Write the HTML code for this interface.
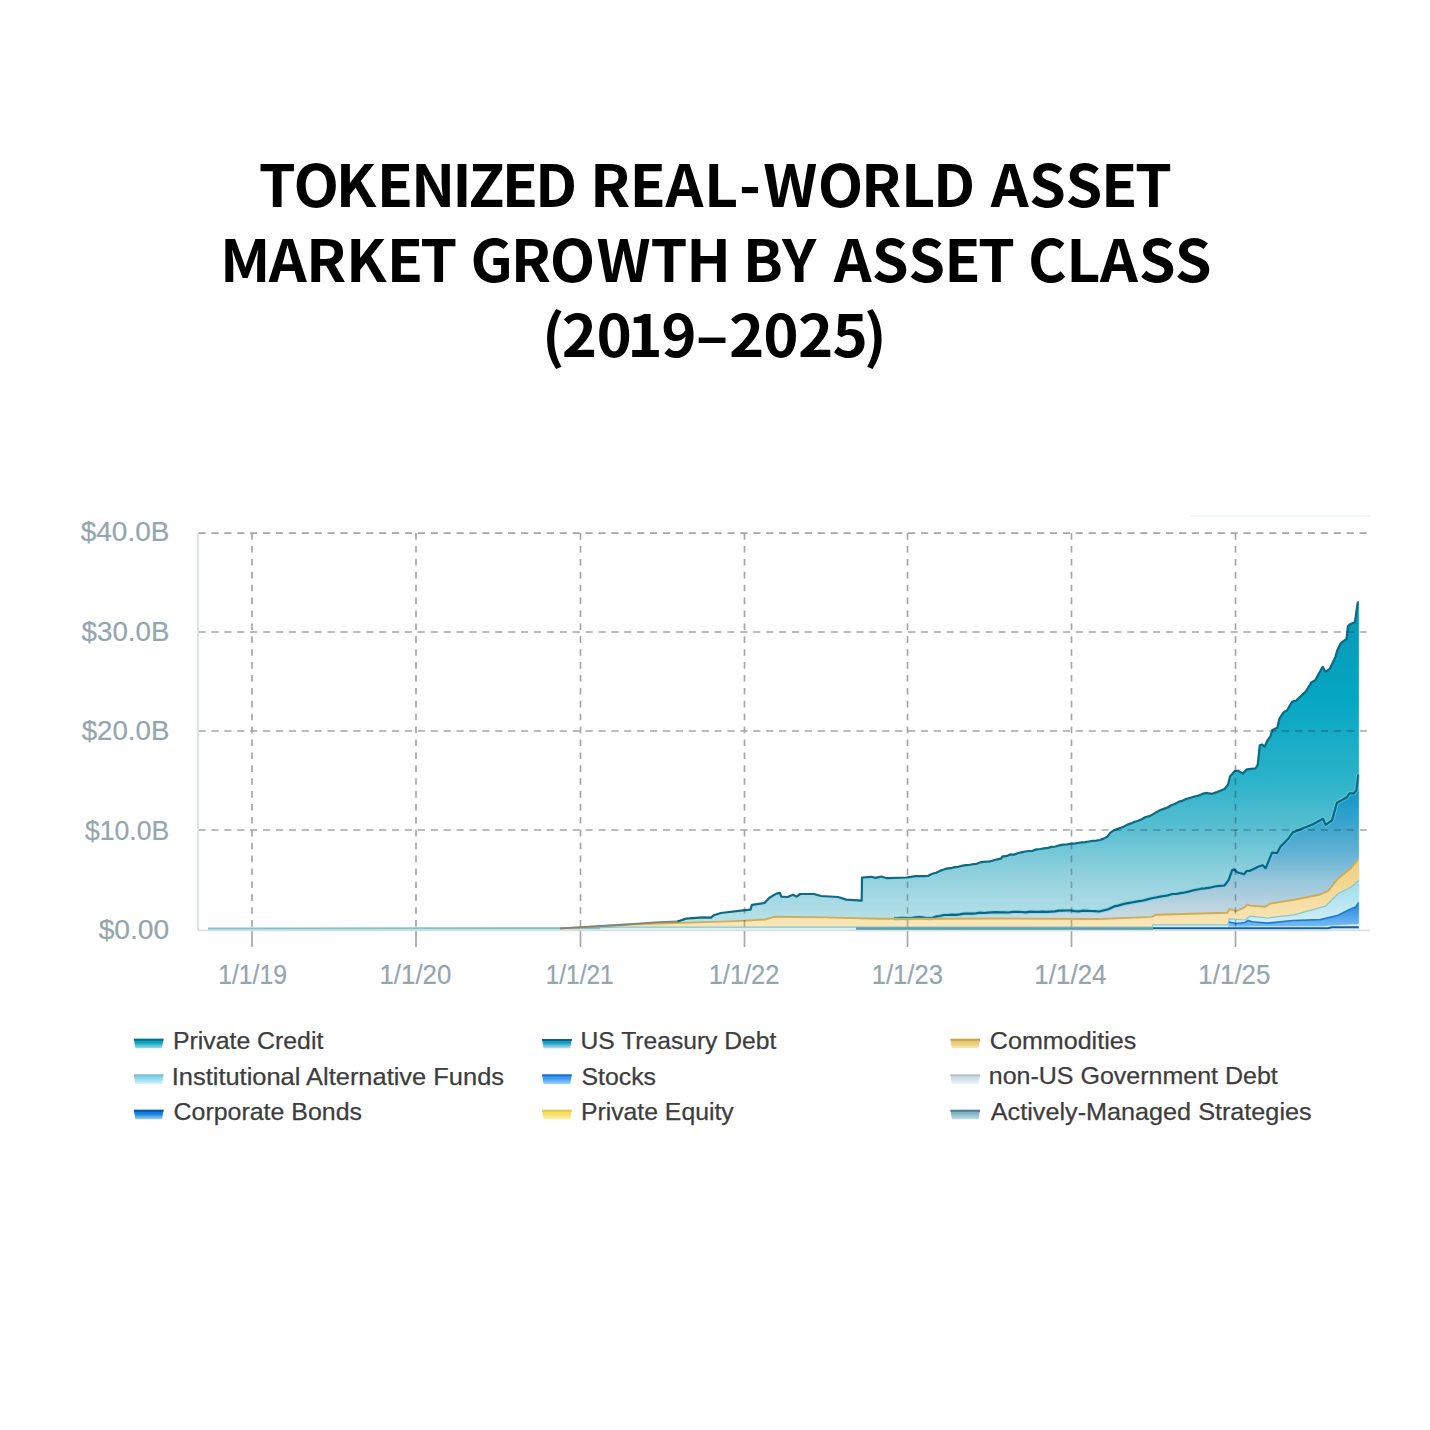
<!DOCTYPE html>
<html><head><meta charset="utf-8"><title>Tokenized Real-World Asset Market Growth by Asset Class (2019–2025)</title>
<style>
html,body{margin:0;padding:0;background:#fff;}
body{width:1430px;height:1430px;overflow:hidden;}
svg{display:block;}
text{font-family:"Liberation Sans",Arial,sans-serif;}
text.tt{font-family:"Noto Sans CJK JP","Liberation Sans",sans-serif;}
</style></head>
<body>
<svg width="1430" height="1430" viewBox="0 0 1430 1430">
<defs>
<linearGradient id="gPC" x1="0" y1="0" x2="0" y2="1">
 <stop offset="0" stop-color="#0897b4"/><stop offset="0.3" stop-color="#06a7c3"/><stop offset="0.55" stop-color="#2cb3c9"/><stop offset="0.7" stop-color="#5cbfd2"/><stop offset="0.82" stop-color="#8ccfdc"/><stop offset="0.92" stop-color="#a8dae4"/><stop offset="1" stop-color="#bfe3ea"/>
</linearGradient>
<linearGradient id="gUS" x1="0" y1="0" x2="0" y2="1">
 <stop offset="0" stop-color="#0b8ec6"/><stop offset="0.17" stop-color="#1b9aca"/><stop offset="0.49" stop-color="#5eb0d2"/><stop offset="0.69" stop-color="#98c7db"/><stop offset="0.85" stop-color="#bcd4e0"/><stop offset="1" stop-color="#d3e2e9"/>
</linearGradient>
<linearGradient id="gCM" x1="0" y1="0" x2="0" y2="1">
 <stop offset="0" stop-color="#eecf7e"/><stop offset="1" stop-color="#f9e8bb"/>
</linearGradient>
<linearGradient id="gIA" x1="0" y1="0" x2="0" y2="1">
 <stop offset="0" stop-color="#9fdcec"/><stop offset="1" stop-color="#d8f2f8"/>
</linearGradient>
<linearGradient id="gST" x1="0" y1="0" x2="0" y2="1">
 <stop offset="0" stop-color="#2287e0"/><stop offset="1" stop-color="#7fc0f2"/>
</linearGradient>
</defs>
<g stroke="#a6a6a6" stroke-opacity="1" stroke-width="1.7" ><line x1="198.5" y1="533.1" x2="1367" y2="533.1" stroke-dasharray="7.2 5.7"/><line x1="198.5" y1="632" x2="1367" y2="632" stroke-dasharray="7.2 5.7"/><line x1="198.5" y1="731" x2="1367" y2="731" stroke-dasharray="7.2 5.7"/><line x1="198.5" y1="830" x2="1367" y2="830" stroke-dasharray="7.2 5.7"/><line x1="252" y1="533.1" x2="252" y2="930.6" stroke-dasharray="6.6 6.3"/><line x1="416" y1="533.1" x2="416" y2="930.6" stroke-dasharray="6.6 6.3"/><line x1="580.5" y1="533.1" x2="580.5" y2="930.6" stroke-dasharray="6.6 6.3"/><line x1="744.5" y1="533.1" x2="744.5" y2="930.6" stroke-dasharray="6.6 6.3"/><line x1="907.5" y1="533.1" x2="907.5" y2="930.6" stroke-dasharray="6.6 6.3"/><line x1="1071.5" y1="533.1" x2="1071.5" y2="930.6" stroke-dasharray="6.6 6.3"/><line x1="1235.5" y1="533.1" x2="1235.5" y2="930.6" stroke-dasharray="6.6 6.3"/></g>
<path d="M208.0,929.0 L560.0,928.5 L620.0,925.0 L658.0,922.2 L677.5,921.5 L686.0,918.7 L700.0,917.5 L702.7,917.3 L711.0,917.6 L713.8,915.2 L719.4,913.4 L720.8,913.0 L740.0,910.7 L743.0,910.3 L750.5,909.7 L751.9,904.8 L764.5,903.0 L765.0,902.5 L769.4,897.8 L775.0,894.4 L776.4,893.6 L779.9,892.9 L781.3,896.6 L787.6,897.0 L793.0,894.7 L796.6,896.6 L800.1,894.0 L814.0,894.0 L821.0,896.0 L824.0,896.2 L838.0,897.0 L846.3,899.6 L861.7,900.6 L862.0,877.5 L871.5,876.8 L875.7,877.9 L880.0,876.8 L881.3,876.5 L886.9,878.2 L894.0,877.9 L898.3,877.8 L902.7,877.6 L906.4,877.5 L907.0,877.4 L910.9,876.9 L911.3,876.8 L915.5,876.2 L915.7,876.2 L920.0,876.2 L924.2,876.2 L925.6,876.0 L928.4,875.8 L931.2,874.3 L932.2,873.8 L935.6,872.8 L936.1,872.7 L939.9,870.9 L940.0,870.9 L943.8,869.5 L947.4,868.4 L947.8,868.4 L951.0,868.2 L951.8,867.9 L954.6,867.1 L955.9,867.0 L958.2,866.9 L959.9,866.4 L961.8,865.8 L963.9,865.4 L965.4,865.2 L968.0,865.1 L969.0,865.0 L972.0,864.3 L972.6,864.2 L976.0,864.0 L976.1,864.0 L979.7,862.5 L980.0,862.4 L983.2,861.9 L984.0,861.8 L986.8,861.6 L988.0,861.5 L990.3,861.3 L992.0,860.8 L993.9,860.2 L996.0,859.7 L997.4,859.3 L1000.0,858.9 L1001.0,858.7 L1002.5,856.4 L1004.0,856.3 L1006.3,856.2 L1008.4,855.2 L1010.1,854.4 L1012.7,854.5 L1013.8,854.6 L1017.1,853.4 L1017.6,853.2 L1021.4,852.3 L1021.5,852.3 L1025.2,851.5 L1025.8,851.5 L1029.0,851.0 L1030.2,851.0 L1032.7,850.8 L1034.5,850.1 L1036.5,849.4 L1038.9,849.1 L1040.3,849.0 L1042.9,848.6 L1044.1,848.4 L1046.9,848.0 L1047.9,847.9 L1050.9,847.1 L1051.7,846.9 L1054.9,846.6 L1055.5,846.5 L1058.9,845.4 L1059.3,845.3 L1062.9,844.7 L1063.1,844.7 L1066.9,844.5 L1070.6,843.7 L1070.9,843.7 L1074.2,843.7 L1074.9,843.6 L1077.9,843.0 L1078.9,842.8 L1081.6,842.3 L1083.0,842.3 L1085.2,842.2 L1087.0,841.9 L1088.9,841.5 L1091.0,841.1 L1092.5,840.9 L1095.0,840.7 L1096.2,840.6 L1099.0,840.2 L1100.0,840.0 L1103.7,838.6 L1104.2,838.4 L1107.4,836.6 L1108.4,835.3 L1110.2,832.9 L1114.0,830.2 L1118.2,828.7 L1120.0,828.0 L1122.4,827.1 L1123.7,826.7 L1126.6,825.1 L1127.4,824.6 L1130.8,823.5 L1131.0,823.4 L1134.7,821.8 L1134.9,821.8 L1138.4,820.7 L1139.1,820.3 L1142.1,819.0 L1143.3,818.3 L1145.7,817.0 L1147.5,816.6 L1149.4,816.2 L1151.7,814.9 L1153.1,814.1 L1156.0,812.4 L1159.8,810.3 L1160.1,810.2 L1163.7,808.9 L1164.2,808.7 L1167.5,807.5 L1168.2,807.1 L1171.3,805.2 L1172.3,804.8 L1175.2,803.8 L1176.4,803.1 L1179.0,801.6 L1180.5,801.2 L1182.9,800.6 L1184.5,799.8 L1186.7,798.7 L1188.6,798.3 L1190.6,797.8 L1192.7,797.1 L1194.5,796.5 L1196.8,796.0 L1198.5,795.6 L1200.8,794.6 L1202.4,793.9 L1204.9,793.2 L1206.3,792.9 L1209.8,793.5 L1211.9,793.8 L1214.7,792.9 L1216.1,792.4 L1219.6,791.0 L1220.3,790.7 L1224.5,789.0 L1227.3,785.6 L1228.0,784.8 L1228.7,781.9 L1229.4,778.9 L1230.0,776.4 L1232.2,773.9 L1232.9,773.2 L1234.3,771.6 L1235.0,770.8 L1235.7,770.8 L1237.0,770.8 L1238.5,770.8 L1242.7,773.6 L1244.0,772.3 L1246.9,769.4 L1247.6,769.3 L1250.0,769.0 L1255.6,768.3 L1257.6,765.0 L1257.7,764.8 L1259.8,745.2 L1261.9,744.5 L1262.6,745.0 L1264.7,746.6 L1265.1,745.7 L1265.7,744.3 L1267.5,740.3 L1270.2,737.0 L1270.3,736.9 L1272.0,731.2 L1272.4,729.9 L1277.1,727.9 L1277.3,727.8 L1279.4,718.7 L1280.2,717.5 L1283.6,712.4 L1287.1,710.3 L1287.8,709.1 L1292.0,701.9 L1292.8,701.6 L1294.1,701.2 L1296.2,700.5 L1305.9,691.4 L1311.5,682.3 L1313.0,681.6 L1315.0,680.6 L1319.3,672.9 L1322.7,666.9 L1323.0,667.4 L1325.5,671.8 L1325.6,671.7 L1328.1,670.1 L1329.7,669.0 L1331.9,664.3 L1335.3,657.1 L1336.9,651.8 L1337.4,650.1 L1338.2,648.5 L1340.9,643.1 L1346.5,639.0 L1347.0,634.5 L1347.9,626.4 L1349.5,624.8 L1350.0,624.3 L1350.8,624.0 L1353.9,622.6 L1354.9,622.2 L1356.3,612.4 L1356.4,611.7 L1357.7,602.6 L1358.3,602.3 L1359.0,601.9 L1359.0,774.5 L1358.3,775.1 L1357.7,779.9 L1356.4,790.2 L1356.3,790.3 L1354.9,792.1 L1353.9,793.4 L1350.8,793.4 L1350.0,793.4 L1349.5,793.4 L1347.9,795.8 L1347.0,797.2 L1346.5,797.5 L1340.9,800.6 L1338.2,802.1 L1337.4,802.5 L1336.9,802.8 L1335.3,808.5 L1331.9,820.5 L1329.7,822.0 L1328.1,823.2 L1325.6,824.9 L1325.5,824.7 L1323.0,818.6 L1322.7,818.8 L1319.3,820.7 L1315.0,823.1 L1313.0,824.2 L1311.5,824.8 L1305.9,827.1 L1296.2,831.0 L1294.1,831.9 L1292.8,832.4 L1292.0,833.5 L1287.8,839.3 L1287.1,840.0 L1283.6,843.5 L1280.2,846.9 L1279.4,848.5 L1277.3,852.8 L1277.1,853.2 L1272.4,852.6 L1272.0,852.6 L1270.3,856.8 L1270.2,857.1 L1267.5,863.8 L1265.7,868.3 L1265.1,867.7 L1264.7,867.3 L1262.6,865.2 L1261.9,865.5 L1259.8,866.2 L1257.7,867.0 L1257.6,867.0 L1255.6,868.0 L1250.0,870.8 L1247.6,870.8 L1246.9,870.8 L1244.0,874.3 L1242.7,873.9 L1238.5,872.6 L1237.0,872.2 L1235.7,870.9 L1235.0,870.1 L1234.3,869.4 L1232.9,869.9 L1232.2,870.1 L1230.0,876.3 L1229.4,877.9 L1228.7,879.9 L1228.0,880.8 L1227.3,881.8 L1224.5,885.5 L1220.3,885.8 L1219.6,885.8 L1216.1,886.3 L1214.7,886.5 L1211.9,887.2 L1209.8,887.7 L1206.3,888.1 L1204.9,888.3 L1202.4,888.6 L1200.8,888.7 L1198.5,889.3 L1196.8,889.7 L1194.5,890.1 L1192.7,890.5 L1190.6,891.1 L1188.6,891.6 L1186.7,892.0 L1184.5,892.5 L1182.9,892.7 L1180.5,893.1 L1179.0,893.4 L1176.4,894.0 L1175.2,894.0 L1172.3,894.0 L1171.3,894.3 L1168.2,895.3 L1167.5,895.5 L1164.2,896.0 L1163.7,896.1 L1160.1,896.7 L1159.8,896.8 L1156.0,897.5 L1153.1,898.0 L1151.7,898.3 L1149.4,898.9 L1147.5,899.4 L1145.7,899.9 L1143.3,900.5 L1142.1,900.7 L1139.1,901.1 L1138.4,901.2 L1134.9,901.8 L1134.7,901.8 L1131.0,902.7 L1130.8,902.7 L1127.4,903.2 L1126.6,903.3 L1123.7,904.0 L1122.4,904.4 L1120.0,905.1 L1118.2,905.6 L1114.0,906.4 L1110.2,908.3 L1108.4,909.2 L1107.4,909.4 L1104.2,910.2 L1103.7,910.4 L1100.0,911.3 L1099.0,911.5 L1096.2,911.2 L1095.0,911.1 L1092.5,911.1 L1091.0,911.0 L1088.9,910.9 L1087.0,910.8 L1085.2,910.8 L1083.0,910.7 L1081.6,910.9 L1078.9,911.3 L1077.9,911.2 L1074.9,911.1 L1074.2,911.0 L1070.9,910.5 L1070.6,910.5 L1066.9,910.5 L1063.1,910.6 L1062.9,910.6 L1059.3,910.7 L1058.9,910.7 L1055.5,911.3 L1054.9,911.4 L1051.7,911.6 L1050.9,911.6 L1047.9,911.8 L1046.9,911.8 L1044.1,911.8 L1042.9,911.7 L1040.3,911.8 L1038.9,911.9 L1036.5,911.9 L1034.5,911.9 L1032.7,911.8 L1030.2,911.6 L1029.0,911.8 L1025.8,912.4 L1025.2,912.3 L1021.5,912.0 L1021.4,912.0 L1017.6,911.9 L1017.1,911.9 L1013.8,911.9 L1012.7,911.9 L1010.1,912.2 L1008.4,912.5 L1006.3,912.4 L1004.0,912.3 L1002.5,912.4 L1001.0,912.4 L1000.0,912.4 L997.4,912.3 L996.0,912.2 L993.9,912.3 L992.0,912.4 L990.3,912.5 L988.0,912.6 L986.8,912.7 L984.0,913.0 L983.2,912.9 L980.0,912.7 L979.7,912.8 L976.1,913.3 L976.0,913.3 L972.6,913.6 L972.0,913.7 L969.0,913.6 L968.0,913.6 L965.4,913.7 L963.9,913.7 L961.8,914.1 L959.9,914.4 L958.2,914.6 L955.9,914.8 L954.6,914.8 L951.8,914.7 L951.0,914.8 L947.8,915.0 L947.4,915.0 L943.8,915.0 L940.0,916.0 L939.9,916.0 L936.1,916.6 L935.6,916.7 L932.2,917.8 L931.2,918.2 L928.4,918.0 L925.6,917.8 L924.2,917.7 L920.0,917.2 L915.7,917.4 L915.5,917.4 L911.3,918.0 L910.9,918.0 L907.0,918.1 L906.4,918.0 L902.7,917.9 L898.3,918.2 L894.0,918.3 L886.9,918.4 L881.3,918.5 L880.0,918.5 L875.7,918.4 L871.5,918.3 L862.0,918.0 L861.7,918.0 L846.3,917.7 L838.0,917.5 L824.0,917.1 L821.0,917.1 L814.0,917.0 L800.1,916.8 L796.6,916.7 L793.0,916.7 L787.6,916.6 L781.3,916.5 L779.9,916.5 L776.4,916.4 L775.0,916.4 L769.4,917.9 L765.0,919.1 L764.5,919.1 L751.9,919.8 L750.5,919.9 L743.0,920.2 L740.0,920.4 L720.8,920.8 L719.4,920.8 L713.8,920.9 L711.0,921.0 L702.7,921.1 L700.0,921.2 L686.0,921.8 L677.5,922.2 L658.0,923.1 L620.0,924.8 L560.0,928.6 L208.0,929.0 Z" fill="url(#gPC)"/>
<path d="M208.0,929.0 L560.0,928.6 L620.0,924.8 L658.0,923.1 L677.5,922.2 L686.0,921.8 L700.0,921.2 L702.7,921.1 L711.0,921.0 L713.8,920.9 L719.4,920.8 L720.8,920.8 L740.0,920.4 L743.0,920.2 L750.5,919.9 L751.9,919.8 L764.5,919.1 L765.0,919.1 L769.4,917.9 L775.0,916.4 L776.4,916.4 L779.9,916.5 L781.3,916.5 L787.6,916.6 L793.0,916.7 L796.6,916.7 L800.1,916.8 L814.0,917.0 L821.0,917.1 L824.0,917.1 L838.0,917.5 L846.3,917.7 L861.7,918.0 L862.0,918.0 L871.5,918.3 L875.7,918.4 L880.0,918.5 L881.3,918.5 L886.9,918.4 L894.0,918.3 L898.3,918.2 L902.7,917.9 L906.4,918.0 L907.0,918.1 L910.9,918.0 L911.3,918.0 L915.5,917.4 L915.7,917.4 L920.0,917.2 L924.2,917.7 L925.6,917.8 L928.4,918.0 L931.2,918.2 L932.2,917.8 L935.6,916.7 L936.1,916.6 L939.9,916.0 L940.0,916.0 L943.8,915.0 L947.4,915.0 L947.8,915.0 L951.0,914.8 L951.8,914.7 L954.6,914.8 L955.9,914.8 L958.2,914.6 L959.9,914.4 L961.8,914.1 L963.9,913.7 L965.4,913.7 L968.0,913.6 L969.0,913.6 L972.0,913.7 L972.6,913.6 L976.0,913.3 L976.1,913.3 L979.7,912.8 L980.0,912.7 L983.2,912.9 L984.0,913.0 L986.8,912.7 L988.0,912.6 L990.3,912.5 L992.0,912.4 L993.9,912.3 L996.0,912.2 L997.4,912.3 L1000.0,912.4 L1001.0,912.4 L1002.5,912.4 L1004.0,912.3 L1006.3,912.4 L1008.4,912.5 L1010.1,912.2 L1012.7,911.9 L1013.8,911.9 L1017.1,911.9 L1017.6,911.9 L1021.4,912.0 L1021.5,912.0 L1025.2,912.3 L1025.8,912.4 L1029.0,911.8 L1030.2,911.6 L1032.7,911.8 L1034.5,911.9 L1036.5,911.9 L1038.9,911.9 L1040.3,911.8 L1042.9,911.7 L1044.1,911.8 L1046.9,911.8 L1047.9,911.8 L1050.9,911.6 L1051.7,911.6 L1054.9,911.4 L1055.5,911.3 L1058.9,910.7 L1059.3,910.7 L1062.9,910.6 L1063.1,910.6 L1066.9,910.5 L1070.6,910.5 L1070.9,910.5 L1074.2,911.0 L1074.9,911.1 L1077.9,911.2 L1078.9,911.3 L1081.6,910.9 L1083.0,910.7 L1085.2,910.8 L1087.0,910.8 L1088.9,910.9 L1091.0,911.0 L1092.5,911.1 L1095.0,911.1 L1096.2,911.2 L1099.0,911.5 L1100.0,911.3 L1103.7,910.4 L1104.2,910.2 L1107.4,909.4 L1108.4,909.2 L1110.2,908.3 L1114.0,906.4 L1118.2,905.6 L1120.0,905.1 L1122.4,904.4 L1123.7,904.0 L1126.6,903.3 L1127.4,903.2 L1130.8,902.7 L1131.0,902.7 L1134.7,901.8 L1134.9,901.8 L1138.4,901.2 L1139.1,901.1 L1142.1,900.7 L1143.3,900.5 L1145.7,899.9 L1147.5,899.4 L1149.4,898.9 L1151.7,898.3 L1153.1,898.0 L1156.0,897.5 L1159.8,896.8 L1160.1,896.7 L1163.7,896.1 L1164.2,896.0 L1167.5,895.5 L1168.2,895.3 L1171.3,894.3 L1172.3,894.0 L1175.2,894.0 L1176.4,894.0 L1179.0,893.4 L1180.5,893.1 L1182.9,892.7 L1184.5,892.5 L1186.7,892.0 L1188.6,891.6 L1190.6,891.1 L1192.7,890.5 L1194.5,890.1 L1196.8,889.7 L1198.5,889.3 L1200.8,888.7 L1202.4,888.6 L1204.9,888.3 L1206.3,888.1 L1209.8,887.7 L1211.9,887.2 L1214.7,886.5 L1216.1,886.3 L1219.6,885.8 L1220.3,885.8 L1224.5,885.5 L1227.3,881.8 L1228.0,880.8 L1228.7,879.9 L1229.4,877.9 L1230.0,876.3 L1232.2,870.1 L1232.9,869.9 L1234.3,869.4 L1235.0,870.1 L1235.7,870.9 L1237.0,872.2 L1238.5,872.6 L1242.7,873.9 L1244.0,874.3 L1246.9,870.8 L1247.6,870.8 L1250.0,870.8 L1255.6,868.0 L1257.6,867.0 L1257.7,867.0 L1259.8,866.2 L1261.9,865.5 L1262.6,865.2 L1264.7,867.3 L1265.1,867.7 L1265.7,868.3 L1267.5,863.8 L1270.2,857.1 L1270.3,856.8 L1272.0,852.6 L1272.4,852.6 L1277.1,853.2 L1277.3,852.8 L1279.4,848.5 L1280.2,846.9 L1283.6,843.5 L1287.1,840.0 L1287.8,839.3 L1292.0,833.5 L1292.8,832.4 L1294.1,831.9 L1296.2,831.0 L1305.9,827.1 L1311.5,824.8 L1313.0,824.2 L1315.0,823.1 L1319.3,820.7 L1322.7,818.8 L1323.0,818.6 L1325.5,824.7 L1325.6,824.9 L1328.1,823.2 L1329.7,822.0 L1331.9,820.5 L1335.3,808.5 L1336.9,802.8 L1337.4,802.5 L1338.2,802.1 L1340.9,800.6 L1346.5,797.5 L1347.0,797.2 L1347.9,795.8 L1349.5,793.4 L1350.0,793.4 L1350.8,793.4 L1353.9,793.4 L1354.9,792.1 L1356.3,790.3 L1356.4,790.2 L1357.7,779.9 L1358.3,775.1 L1359.0,774.5 L1359.0,929.6 L1358.3,929.6 L1357.7,929.6 L1356.4,929.6 L1356.3,929.6 L1354.9,929.6 L1353.9,929.6 L1350.8,929.6 L1350.0,929.6 L1349.5,929.6 L1347.9,929.6 L1347.0,929.6 L1346.5,929.6 L1340.9,929.6 L1338.2,929.6 L1337.4,929.6 L1336.9,929.6 L1335.3,929.6 L1331.9,929.6 L1329.7,929.6 L1328.1,929.6 L1325.6,929.6 L1325.5,929.6 L1323.0,929.6 L1322.7,929.6 L1319.3,929.6 L1315.0,929.6 L1313.0,929.6 L1311.5,929.6 L1305.9,929.6 L1296.2,929.6 L1294.1,929.6 L1292.8,929.6 L1292.0,929.6 L1287.8,929.6 L1287.1,929.6 L1283.6,929.6 L1280.2,929.6 L1279.4,929.6 L1277.3,929.6 L1277.1,929.6 L1272.4,929.6 L1272.0,929.6 L1270.3,929.6 L1270.2,929.6 L1267.5,929.6 L1265.7,929.6 L1265.1,929.6 L1264.7,929.6 L1262.6,929.6 L1261.9,929.6 L1259.8,929.6 L1257.7,929.6 L1257.6,929.6 L1255.6,929.6 L1250.0,929.6 L1247.6,929.6 L1246.9,929.6 L1244.0,929.6 L1242.7,929.6 L1238.5,929.6 L1237.0,929.6 L1235.7,929.6 L1235.0,929.6 L1234.3,929.6 L1232.9,929.6 L1232.2,929.6 L1230.0,929.6 L1229.4,929.6 L1228.7,929.6 L1228.0,929.6 L1227.3,929.6 L1224.5,929.6 L1220.3,929.6 L1219.6,929.6 L1216.1,929.6 L1214.7,929.6 L1211.9,929.6 L1209.8,929.6 L1206.3,929.6 L1204.9,929.6 L1202.4,929.6 L1200.8,929.6 L1198.5,929.6 L1196.8,929.6 L1194.5,929.6 L1192.7,929.6 L1190.6,929.6 L1188.6,929.6 L1186.7,929.6 L1184.5,929.6 L1182.9,929.6 L1180.5,929.6 L1179.0,929.6 L1176.4,929.6 L1175.2,929.6 L1172.3,929.6 L1171.3,929.6 L1168.2,929.6 L1167.5,929.6 L1164.2,929.6 L1163.7,929.6 L1160.1,929.6 L1159.8,929.6 L1156.0,929.6 L1153.1,929.6 L1151.7,929.6 L1149.4,929.6 L1147.5,929.6 L1145.7,929.6 L1143.3,929.6 L1142.1,929.6 L1139.1,929.6 L1138.4,929.6 L1134.9,929.6 L1134.7,929.6 L1131.0,929.6 L1130.8,929.6 L1127.4,929.6 L1126.6,929.6 L1123.7,929.6 L1122.4,929.6 L1120.0,929.6 L1118.2,929.6 L1114.0,929.6 L1110.2,929.6 L1108.4,929.6 L1107.4,929.6 L1104.2,929.6 L1103.7,929.6 L1100.0,929.6 L1099.0,929.6 L1096.2,929.6 L1095.0,929.6 L1092.5,929.6 L1091.0,929.6 L1088.9,929.6 L1087.0,929.6 L1085.2,929.6 L1083.0,929.6 L1081.6,929.6 L1078.9,929.6 L1077.9,929.6 L1074.9,929.6 L1074.2,929.6 L1070.9,929.6 L1070.6,929.6 L1066.9,929.6 L1063.1,929.6 L1062.9,929.6 L1059.3,929.6 L1058.9,929.6 L1055.5,929.6 L1054.9,929.6 L1051.7,929.6 L1050.9,929.6 L1047.9,929.6 L1046.9,929.6 L1044.1,929.6 L1042.9,929.6 L1040.3,929.6 L1038.9,929.6 L1036.5,929.6 L1034.5,929.6 L1032.7,929.6 L1030.2,929.6 L1029.0,929.6 L1025.8,929.6 L1025.2,929.6 L1021.5,929.6 L1021.4,929.6 L1017.6,929.6 L1017.1,929.6 L1013.8,929.6 L1012.7,929.6 L1010.1,929.6 L1008.4,929.6 L1006.3,929.6 L1004.0,929.6 L1002.5,929.6 L1001.0,929.6 L1000.0,929.6 L997.4,929.6 L996.0,929.6 L993.9,929.6 L992.0,929.6 L990.3,929.6 L988.0,929.6 L986.8,929.6 L984.0,929.6 L983.2,929.6 L980.0,929.6 L979.7,929.6 L976.1,929.6 L976.0,929.6 L972.6,929.6 L972.0,929.6 L969.0,929.6 L968.0,929.6 L965.4,929.6 L963.9,929.6 L961.8,929.6 L959.9,929.6 L958.2,929.6 L955.9,929.6 L954.6,929.6 L951.8,929.6 L951.0,929.6 L947.8,929.6 L947.4,929.6 L943.8,929.6 L940.0,929.6 L939.9,929.6 L936.1,929.6 L935.6,929.6 L932.2,929.6 L931.2,929.6 L928.4,929.6 L925.6,929.6 L924.2,929.6 L920.0,929.6 L915.7,929.6 L915.5,929.6 L911.3,929.6 L910.9,929.6 L907.0,929.6 L906.4,929.6 L902.7,929.6 L898.3,929.6 L894.0,929.6 L886.9,929.6 L881.3,929.6 L880.0,929.6 L875.7,929.6 L871.5,929.6 L862.0,929.6 L861.7,929.6 L846.3,929.6 L838.0,929.6 L824.0,929.6 L821.0,929.6 L814.0,929.6 L800.1,929.6 L796.6,929.6 L793.0,929.6 L787.6,929.6 L781.3,929.6 L779.9,929.6 L776.4,929.6 L775.0,929.6 L769.4,929.6 L765.0,929.6 L764.5,929.6 L751.9,929.6 L750.5,929.6 L743.0,929.6 L740.0,929.6 L720.8,929.6 L719.4,929.6 L713.8,929.6 L711.0,929.6 L702.7,929.6 L700.0,929.6 L686.0,929.6 L677.5,929.6 L658.0,929.6 L620.0,929.6 L560.0,929.6 L208.0,929.6 Z" fill="url(#gUS)"/>
<path d="M208.0,929.0 L560.0,928.6 L620.0,924.8 L719.4,921.6 L740.0,920.9 L765.0,919.5 L775.0,916.7 L824.0,917.4 L880.0,918.8 L940.0,918.8 L1000.0,918.5 L1100.0,919.0 L1151.7,916.9 L1156.0,914.8 L1227.3,912.7 L1229.4,909.0 L1232.9,910.0 L1235.7,911.3 L1244.0,907.8 L1247.6,904.6 L1250.0,905.6 L1265.1,906.7 L1270.2,903.6 L1294.1,899.8 L1319.3,894.8 L1328.1,891.0 L1338.2,878.4 L1350.8,868.3 L1358.3,859.5 L1359.0,859.5 L1359.0,929.6 L1358.3,929.6 L1350.8,929.6 L1338.2,929.6 L1328.1,929.6 L1319.3,929.6 L1294.1,929.6 L1270.2,929.6 L1265.1,929.6 L1250.0,929.6 L1247.6,929.6 L1244.0,929.6 L1235.7,929.6 L1232.9,929.6 L1229.4,929.6 L1227.3,929.6 L1156.0,929.6 L1151.7,929.6 L1100.0,929.6 L1000.0,929.6 L940.0,929.6 L880.0,929.6 L824.0,929.6 L775.0,929.6 L765.0,929.6 L740.0,929.6 L719.4,929.6 L620.0,929.6 L560.0,929.6 L208.0,929.6 Z" fill="url(#gCM)"/>
<path d="M208.0,928.6 L560.0,928.4 L620.0,927.2 L719.4,927.2 L740.0,927.2 L765.0,927.1 L775.0,927.1 L824.0,927.1 L880.0,927.1 L940.0,927.1 L1000.0,927.1 L1100.0,927.0 L1151.7,927.0 L1152.0,927.0 L1153.0,924.8 L1156.0,924.8 L1227.3,924.8 L1228.0,924.8 L1229.0,919.0 L1229.4,919.0 L1232.9,919.2 L1235.7,919.4 L1244.0,919.9 L1245.0,920.0 L1247.6,918.0 L1250.0,916.2 L1265.1,917.7 L1267.6,918.0 L1270.2,917.7 L1294.1,914.9 L1319.3,907.9 L1325.6,906.1 L1328.1,903.6 L1338.2,893.5 L1350.8,887.2 L1358.3,880.9 L1359.0,880.9 L1359.0,929.6 L1358.3,929.6 L1350.8,929.6 L1338.2,929.6 L1328.1,929.6 L1325.6,929.6 L1319.3,929.6 L1294.1,929.6 L1270.2,929.6 L1267.6,929.6 L1265.1,929.6 L1250.0,929.6 L1247.6,929.6 L1245.0,929.6 L1244.0,929.6 L1235.7,929.6 L1232.9,929.6 L1229.4,929.6 L1229.0,929.6 L1228.0,929.6 L1227.3,929.6 L1156.0,929.6 L1153.0,929.6 L1152.0,929.6 L1151.7,929.6 L1100.0,929.6 L1000.0,929.6 L940.0,929.6 L880.0,929.6 L824.0,929.6 L775.0,929.6 L765.0,929.6 L740.0,929.6 L719.4,929.6 L620.0,929.6 L560.0,929.6 L208.0,929.6 Z" fill="url(#gIA)"/>
<path d="M208.0,928.6 L560.0,928.4 L620.0,927.2 L1152.0,927.0 L1153.0,924.8 L1228.0,924.8 L1229.0,919.0 L1245.0,920.0 L1250.0,916.2 L1267.6,918.0 L1294.1,914.9 L1325.6,906.1 L1338.2,893.5 L1350.8,887.2 L1358.3,880.9 L1359.0,880.9" fill="none" stroke="#88c4d4" stroke-width="1.2"/>
<path d="M1228.0,929.0 L1229.0,926.4 L1320.0,926.2 L1340.0,925.0 L1359.0,924.0 L1359.0,929.6 L1340.0,929.6 L1320.0,929.6 L1229.0,929.6 L1228.0,929.6 Z" fill="#dfe8ec"/>
<path d="M1228.0,929.0 L1229.0,922.0 L1236.0,923.5 L1245.0,922.5 L1248.0,920.5 L1252.0,921.8 L1267.6,923.1 L1292.8,920.5 L1320.0,919.6 L1320.5,919.6 L1338.2,915.2 L1340.0,914.3 L1349.5,909.5 L1355.8,907.0 L1358.3,903.0 L1359.0,903.0 L1359.0,924.0 L1358.3,924.0 L1355.8,924.2 L1349.5,924.5 L1340.0,925.0 L1338.2,925.1 L1320.5,926.2 L1320.0,926.2 L1292.8,926.3 L1267.6,926.3 L1252.0,926.3 L1248.0,926.4 L1245.0,926.4 L1236.0,926.4 L1229.0,926.4 L1228.0,929.0 Z" fill="url(#gST)"/>
<path d="M1229.0,922.0 L1236.0,923.5 L1245.0,922.5 L1248.0,920.5 L1252.0,921.8 L1267.6,923.1 L1292.8,920.5 L1320.5,919.6 L1338.2,915.2 L1349.5,909.5 L1355.8,907.0 L1358.3,903.0 L1359.0,903.0" fill="none" stroke="#1b7ad8" stroke-width="1.6"/>
<path d="M856,927.3 L1153,927.3 L1153,930.1 L856,930.1 Z" fill="#5c9db5"/>
<path d="M1153,928.2 L1328,928.2 L1332,927.3 L1359,927.3" fill="none" stroke="#12609c" stroke-width="2"/>
<path d="M208,928.6 L600,928.2" fill="none" stroke="#7fc3d3" stroke-width="2"/>
<path d="M894.0,918.3 L898.3,918.2 L902.7,917.9 L907.0,918.1 L911.3,918.0 L915.7,917.4 L920.0,917.2 L925.6,917.8 L931.2,918.2 L935.6,916.7 L940.0,916.0 L943.8,915.0 L947.8,915.0 L951.8,914.7 L955.9,914.8 L959.9,914.4 L963.9,913.7 L968.0,913.6 L972.0,913.7 L976.0,913.3 L980.0,912.7 L984.0,913.0 L988.0,912.6 L992.0,912.4 L996.0,912.2 L1000.0,912.4 L1004.0,912.3 L1008.4,912.5 L1012.7,911.9 L1017.1,911.9 L1021.5,912.0 L1025.8,912.4 L1030.2,911.6 L1034.5,911.9 L1038.9,911.9 L1042.9,911.7 L1046.9,911.8 L1050.9,911.6 L1054.9,911.4 L1058.9,910.7 L1062.9,910.6 L1066.9,910.5 L1070.9,910.5 L1074.9,911.1 L1078.9,911.3 L1083.0,910.7 L1087.0,910.8 L1091.0,911.0 L1095.0,911.1 L1099.0,911.5 L1100.0,911.3 L1104.2,910.2 L1108.4,909.2 L1114.0,906.4 L1118.2,905.6 L1122.4,904.4 L1126.6,903.3 L1130.8,902.7 L1134.9,901.8 L1139.1,901.1 L1143.3,900.5 L1147.5,899.4 L1151.7,898.3 L1153.1,898.0 L1156.0,897.5 L1160.1,896.7 L1164.2,896.0 L1168.2,895.3 L1172.3,894.0 L1176.4,894.0 L1180.5,893.1 L1184.5,892.5 L1188.6,891.6 L1192.7,890.5 L1196.8,889.7 L1200.8,888.7 L1204.9,888.3 L1209.8,887.7 L1214.7,886.5 L1219.6,885.8 L1224.5,885.5 L1227.3,881.8 L1228.7,879.9 L1229.4,877.9 L1232.2,870.1 L1232.9,869.9 L1234.3,869.4 L1235.7,870.9 L1237.0,872.2 L1244.0,874.3 L1246.9,870.8 L1247.6,870.8 L1250.0,870.8 L1257.6,867.0 L1262.6,865.2 L1265.1,867.7 L1265.7,868.3 L1270.2,857.1 L1272.0,852.6 L1277.1,853.2 L1280.2,846.9 L1287.8,839.3 L1292.8,832.4 L1294.1,831.9 L1313.0,824.2 L1319.3,820.7 L1323.0,818.6 L1325.6,824.9 L1328.1,823.2 L1331.9,820.5 L1336.9,802.8 L1338.2,802.1 L1347.0,797.2 L1349.5,793.4 L1350.8,793.4 L1353.9,793.4 L1356.4,790.2 L1358.3,775.1 L1359.0,774.5" fill="none" stroke="#6cd2e6" stroke-opacity="0.55" stroke-width="4.4" stroke-linejoin="round"/>
<path d="M894.0,918.3 L898.3,918.2 L902.7,917.9 L907.0,918.1 L911.3,918.0 L915.7,917.4 L920.0,917.2 L925.6,917.8 L931.2,918.2 L935.6,916.7 L940.0,916.0 L943.8,915.0 L947.8,915.0 L951.8,914.7 L955.9,914.8 L959.9,914.4 L963.9,913.7 L968.0,913.6 L972.0,913.7 L976.0,913.3 L980.0,912.7 L984.0,913.0 L988.0,912.6 L992.0,912.4 L996.0,912.2 L1000.0,912.4 L1004.0,912.3 L1008.4,912.5 L1012.7,911.9 L1017.1,911.9 L1021.5,912.0 L1025.8,912.4 L1030.2,911.6 L1034.5,911.9 L1038.9,911.9 L1042.9,911.7 L1046.9,911.8 L1050.9,911.6 L1054.9,911.4 L1058.9,910.7 L1062.9,910.6 L1066.9,910.5 L1070.9,910.5 L1074.9,911.1 L1078.9,911.3 L1083.0,910.7 L1087.0,910.8 L1091.0,911.0 L1095.0,911.1 L1099.0,911.5 L1100.0,911.3 L1104.2,910.2 L1108.4,909.2 L1114.0,906.4 L1118.2,905.6 L1122.4,904.4 L1126.6,903.3 L1130.8,902.7 L1134.9,901.8 L1139.1,901.1 L1143.3,900.5 L1147.5,899.4 L1151.7,898.3 L1153.1,898.0 L1156.0,897.5 L1160.1,896.7 L1164.2,896.0 L1168.2,895.3 L1172.3,894.0 L1176.4,894.0 L1180.5,893.1 L1184.5,892.5 L1188.6,891.6 L1192.7,890.5 L1196.8,889.7 L1200.8,888.7 L1204.9,888.3 L1209.8,887.7 L1214.7,886.5 L1219.6,885.8 L1224.5,885.5 L1227.3,881.8 L1228.7,879.9 L1229.4,877.9 L1232.2,870.1 L1232.9,869.9 L1234.3,869.4 L1235.7,870.9 L1237.0,872.2 L1244.0,874.3 L1246.9,870.8 L1247.6,870.8 L1250.0,870.8 L1257.6,867.0 L1262.6,865.2 L1265.1,867.7 L1265.7,868.3 L1270.2,857.1 L1272.0,852.6 L1277.1,853.2 L1280.2,846.9 L1287.8,839.3 L1292.8,832.4 L1294.1,831.9 L1313.0,824.2 L1319.3,820.7 L1323.0,818.6 L1325.6,824.9 L1328.1,823.2 L1331.9,820.5 L1336.9,802.8 L1338.2,802.1 L1347.0,797.2 L1349.5,793.4 L1350.8,793.4 L1353.9,793.4 L1356.4,790.2 L1358.3,775.1 L1359.0,774.5" fill="none" stroke="#0b6684" stroke-width="2.2" stroke-linejoin="round"/>
<path d="M560.0,928.6 L620.0,924.8 L719.4,921.6 L740.0,920.9 L765.0,919.5 L775.0,916.7 L824.0,917.4 L880.0,918.8 L940.0,918.8 L1000.0,918.5 L1100.0,919.0 L1151.7,916.9 L1156.0,914.8 L1227.3,912.7 L1229.4,909.0 L1232.9,910.0 L1235.7,911.3 L1244.0,907.8 L1247.6,904.6 L1250.0,905.6 L1265.1,906.7 L1270.2,903.6 L1294.1,899.8 L1319.3,894.8 L1328.1,891.0 L1338.2,878.4 L1350.8,868.3 L1358.3,859.5 L1359.0,859.5" fill="none" stroke="#cfac58" stroke-width="1.9"/>
<path d="M560.0,928.4 L620.0,925.0 L658.0,922.2 L677.5,921.5 L686.0,918.7" fill="none" stroke="#7d8578" stroke-width="1.8" stroke-linejoin="round"/>
<path d="M677.5,921.5 L686.0,918.7 L702.7,917.3 L711.0,917.6 L713.8,915.2 L720.8,913.0 L743.0,910.3 L750.5,909.7 L751.9,904.8 L764.5,903.0 L769.4,897.8 L776.4,893.6 L779.9,892.9 L781.3,896.6 L787.6,897.0 L793.0,894.7 L796.6,896.6 L800.1,894.0 L814.0,894.0 L821.0,896.0 L838.0,897.0 L846.3,899.6 L861.7,900.6 L862.0,877.5 L871.5,876.8 L875.7,877.9 L881.3,876.5 L886.9,878.2 L906.4,877.5 L910.9,876.9 L915.5,876.2 L920.0,876.2 L924.2,876.2 L928.4,875.8 L932.2,873.8 L936.1,872.7 L939.9,870.9 L943.8,869.5 L947.4,868.4 L951.0,868.2 L954.6,867.1 L958.2,866.9 L961.8,865.8 L965.4,865.2 L969.0,865.0 L972.6,864.2 L976.1,864.0 L979.7,862.5 L983.2,861.9 L986.8,861.6 L990.3,861.3 L993.9,860.2 L997.4,859.3 L1001.0,858.7 L1002.5,856.4 L1006.3,856.2 L1010.1,854.4 L1013.8,854.6 L1017.6,853.2 L1021.4,852.3 L1025.2,851.5 L1029.0,851.0 L1032.7,850.8 L1036.5,849.4 L1040.3,849.0 L1044.1,848.4 L1047.9,847.9 L1051.7,846.9 L1055.5,846.5 L1059.3,845.3 L1063.1,844.7 L1066.9,844.5 L1070.6,843.7 L1074.2,843.7 L1077.9,843.0 L1081.6,842.3 L1085.2,842.2 L1088.9,841.5 L1092.5,840.9 L1096.2,840.6 L1100.0,840.0 L1103.7,838.6 L1107.4,836.6 L1110.2,832.9 L1114.0,830.2 L1120.0,828.0 L1123.7,826.7 L1127.4,824.6 L1131.0,823.4 L1134.7,821.8 L1138.4,820.7 L1142.1,819.0 L1145.7,817.0 L1149.4,816.2 L1153.1,814.1 L1156.0,812.4 L1159.8,810.3 L1163.7,808.9 L1167.5,807.5 L1171.3,805.2 L1175.2,803.8 L1179.0,801.6 L1182.9,800.6 L1186.7,798.7 L1190.6,797.8 L1194.5,796.5 L1198.5,795.6 L1202.4,793.9 L1206.3,792.9 L1211.9,793.8 L1216.1,792.4 L1220.3,790.7 L1224.5,789.0 L1228.0,784.8 L1230.0,776.4 L1235.0,770.8 L1238.5,770.8 L1242.7,773.6 L1246.9,769.4 L1255.6,768.3 L1257.7,764.8 L1259.8,745.2 L1261.9,744.5 L1264.7,746.6 L1267.5,740.3 L1270.3,736.9 L1272.4,729.9 L1277.3,727.8 L1279.4,718.7 L1283.6,712.4 L1287.1,710.3 L1292.0,701.9 L1296.2,700.5 L1305.9,691.4 L1311.5,682.3 L1315.0,680.6 L1322.7,666.9 L1325.5,671.8 L1329.7,669.0 L1335.3,657.1 L1337.4,650.1 L1340.9,643.1 L1346.5,639.0 L1347.9,626.4 L1350.0,624.3 L1354.9,622.2 L1356.3,612.4 L1357.7,602.6 L1359.0,601.9" fill="none" stroke="#0b6b86" stroke-width="2.2" stroke-linejoin="round"/>
<line x1="1359.3" y1="602" x2="1359.3" y2="929.6" stroke="#d8f3f8" stroke-width="0.8"/>
<line x1="1190" y1="516" x2="1371" y2="516" stroke="#eef4f6" stroke-width="1.5"/>
<clipPath id="areaclip"><path d="M208.0,929.0 L560.0,928.5 L620.0,925.0 L658.0,922.2 L677.5,921.5 L686.0,918.7 L700.0,917.5 L702.7,917.3 L711.0,917.6 L713.8,915.2 L719.4,913.4 L720.8,913.0 L740.0,910.7 L743.0,910.3 L750.5,909.7 L751.9,904.8 L764.5,903.0 L765.0,902.5 L769.4,897.8 L775.0,894.4 L776.4,893.6 L779.9,892.9 L781.3,896.6 L787.6,897.0 L793.0,894.7 L796.6,896.6 L800.1,894.0 L814.0,894.0 L821.0,896.0 L824.0,896.2 L838.0,897.0 L846.3,899.6 L861.7,900.6 L862.0,877.5 L871.5,876.8 L875.7,877.9 L880.0,876.8 L881.3,876.5 L886.9,878.2 L894.0,877.9 L898.3,877.8 L902.7,877.6 L906.4,877.5 L907.0,877.4 L910.9,876.9 L911.3,876.8 L915.5,876.2 L915.7,876.2 L920.0,876.2 L924.2,876.2 L925.6,876.0 L928.4,875.8 L931.2,874.3 L932.2,873.8 L935.6,872.8 L936.1,872.7 L939.9,870.9 L940.0,870.9 L943.8,869.5 L947.4,868.4 L947.8,868.4 L951.0,868.2 L951.8,867.9 L954.6,867.1 L955.9,867.0 L958.2,866.9 L959.9,866.4 L961.8,865.8 L963.9,865.4 L965.4,865.2 L968.0,865.1 L969.0,865.0 L972.0,864.3 L972.6,864.2 L976.0,864.0 L976.1,864.0 L979.7,862.5 L980.0,862.4 L983.2,861.9 L984.0,861.8 L986.8,861.6 L988.0,861.5 L990.3,861.3 L992.0,860.8 L993.9,860.2 L996.0,859.7 L997.4,859.3 L1000.0,858.9 L1001.0,858.7 L1002.5,856.4 L1004.0,856.3 L1006.3,856.2 L1008.4,855.2 L1010.1,854.4 L1012.7,854.5 L1013.8,854.6 L1017.1,853.4 L1017.6,853.2 L1021.4,852.3 L1021.5,852.3 L1025.2,851.5 L1025.8,851.5 L1029.0,851.0 L1030.2,851.0 L1032.7,850.8 L1034.5,850.1 L1036.5,849.4 L1038.9,849.1 L1040.3,849.0 L1042.9,848.6 L1044.1,848.4 L1046.9,848.0 L1047.9,847.9 L1050.9,847.1 L1051.7,846.9 L1054.9,846.6 L1055.5,846.5 L1058.9,845.4 L1059.3,845.3 L1062.9,844.7 L1063.1,844.7 L1066.9,844.5 L1070.6,843.7 L1070.9,843.7 L1074.2,843.7 L1074.9,843.6 L1077.9,843.0 L1078.9,842.8 L1081.6,842.3 L1083.0,842.3 L1085.2,842.2 L1087.0,841.9 L1088.9,841.5 L1091.0,841.1 L1092.5,840.9 L1095.0,840.7 L1096.2,840.6 L1099.0,840.2 L1100.0,840.0 L1103.7,838.6 L1104.2,838.4 L1107.4,836.6 L1108.4,835.3 L1110.2,832.9 L1114.0,830.2 L1118.2,828.7 L1120.0,828.0 L1122.4,827.1 L1123.7,826.7 L1126.6,825.1 L1127.4,824.6 L1130.8,823.5 L1131.0,823.4 L1134.7,821.8 L1134.9,821.8 L1138.4,820.7 L1139.1,820.3 L1142.1,819.0 L1143.3,818.3 L1145.7,817.0 L1147.5,816.6 L1149.4,816.2 L1151.7,814.9 L1153.1,814.1 L1156.0,812.4 L1159.8,810.3 L1160.1,810.2 L1163.7,808.9 L1164.2,808.7 L1167.5,807.5 L1168.2,807.1 L1171.3,805.2 L1172.3,804.8 L1175.2,803.8 L1176.4,803.1 L1179.0,801.6 L1180.5,801.2 L1182.9,800.6 L1184.5,799.8 L1186.7,798.7 L1188.6,798.3 L1190.6,797.8 L1192.7,797.1 L1194.5,796.5 L1196.8,796.0 L1198.5,795.6 L1200.8,794.6 L1202.4,793.9 L1204.9,793.2 L1206.3,792.9 L1209.8,793.5 L1211.9,793.8 L1214.7,792.9 L1216.1,792.4 L1219.6,791.0 L1220.3,790.7 L1224.5,789.0 L1227.3,785.6 L1228.0,784.8 L1228.7,781.9 L1229.4,778.9 L1230.0,776.4 L1232.2,773.9 L1232.9,773.2 L1234.3,771.6 L1235.0,770.8 L1235.7,770.8 L1237.0,770.8 L1238.5,770.8 L1242.7,773.6 L1244.0,772.3 L1246.9,769.4 L1247.6,769.3 L1250.0,769.0 L1255.6,768.3 L1257.6,765.0 L1257.7,764.8 L1259.8,745.2 L1261.9,744.5 L1262.6,745.0 L1264.7,746.6 L1265.1,745.7 L1265.7,744.3 L1267.5,740.3 L1270.2,737.0 L1270.3,736.9 L1272.0,731.2 L1272.4,729.9 L1277.1,727.9 L1277.3,727.8 L1279.4,718.7 L1280.2,717.5 L1283.6,712.4 L1287.1,710.3 L1287.8,709.1 L1292.0,701.9 L1292.8,701.6 L1294.1,701.2 L1296.2,700.5 L1305.9,691.4 L1311.5,682.3 L1313.0,681.6 L1315.0,680.6 L1319.3,672.9 L1322.7,666.9 L1323.0,667.4 L1325.5,671.8 L1325.6,671.7 L1328.1,670.1 L1329.7,669.0 L1331.9,664.3 L1335.3,657.1 L1336.9,651.8 L1337.4,650.1 L1338.2,648.5 L1340.9,643.1 L1346.5,639.0 L1347.0,634.5 L1347.9,626.4 L1349.5,624.8 L1350.0,624.3 L1350.8,624.0 L1353.9,622.6 L1354.9,622.2 L1356.3,612.4 L1356.4,611.7 L1357.7,602.6 L1358.3,602.3 L1359.0,601.9 L1359.0,929.6 L1358.3,929.6 L1357.7,929.6 L1356.4,929.6 L1356.3,929.6 L1354.9,929.6 L1353.9,929.6 L1350.8,929.6 L1350.0,929.6 L1349.5,929.6 L1347.9,929.6 L1347.0,929.6 L1346.5,929.6 L1340.9,929.6 L1338.2,929.6 L1337.4,929.6 L1336.9,929.6 L1335.3,929.6 L1331.9,929.6 L1329.7,929.6 L1328.1,929.6 L1325.6,929.6 L1325.5,929.6 L1323.0,929.6 L1322.7,929.6 L1319.3,929.6 L1315.0,929.6 L1313.0,929.6 L1311.5,929.6 L1305.9,929.6 L1296.2,929.6 L1294.1,929.6 L1292.8,929.6 L1292.0,929.6 L1287.8,929.6 L1287.1,929.6 L1283.6,929.6 L1280.2,929.6 L1279.4,929.6 L1277.3,929.6 L1277.1,929.6 L1272.4,929.6 L1272.0,929.6 L1270.3,929.6 L1270.2,929.6 L1267.5,929.6 L1265.7,929.6 L1265.1,929.6 L1264.7,929.6 L1262.6,929.6 L1261.9,929.6 L1259.8,929.6 L1257.7,929.6 L1257.6,929.6 L1255.6,929.6 L1250.0,929.6 L1247.6,929.6 L1246.9,929.6 L1244.0,929.6 L1242.7,929.6 L1238.5,929.6 L1237.0,929.6 L1235.7,929.6 L1235.0,929.6 L1234.3,929.6 L1232.9,929.6 L1232.2,929.6 L1230.0,929.6 L1229.4,929.6 L1228.7,929.6 L1228.0,929.6 L1227.3,929.6 L1224.5,929.6 L1220.3,929.6 L1219.6,929.6 L1216.1,929.6 L1214.7,929.6 L1211.9,929.6 L1209.8,929.6 L1206.3,929.6 L1204.9,929.6 L1202.4,929.6 L1200.8,929.6 L1198.5,929.6 L1196.8,929.6 L1194.5,929.6 L1192.7,929.6 L1190.6,929.6 L1188.6,929.6 L1186.7,929.6 L1184.5,929.6 L1182.9,929.6 L1180.5,929.6 L1179.0,929.6 L1176.4,929.6 L1175.2,929.6 L1172.3,929.6 L1171.3,929.6 L1168.2,929.6 L1167.5,929.6 L1164.2,929.6 L1163.7,929.6 L1160.1,929.6 L1159.8,929.6 L1156.0,929.6 L1153.1,929.6 L1151.7,929.6 L1149.4,929.6 L1147.5,929.6 L1145.7,929.6 L1143.3,929.6 L1142.1,929.6 L1139.1,929.6 L1138.4,929.6 L1134.9,929.6 L1134.7,929.6 L1131.0,929.6 L1130.8,929.6 L1127.4,929.6 L1126.6,929.6 L1123.7,929.6 L1122.4,929.6 L1120.0,929.6 L1118.2,929.6 L1114.0,929.6 L1110.2,929.6 L1108.4,929.6 L1107.4,929.6 L1104.2,929.6 L1103.7,929.6 L1100.0,929.6 L1099.0,929.6 L1096.2,929.6 L1095.0,929.6 L1092.5,929.6 L1091.0,929.6 L1088.9,929.6 L1087.0,929.6 L1085.2,929.6 L1083.0,929.6 L1081.6,929.6 L1078.9,929.6 L1077.9,929.6 L1074.9,929.6 L1074.2,929.6 L1070.9,929.6 L1070.6,929.6 L1066.9,929.6 L1063.1,929.6 L1062.9,929.6 L1059.3,929.6 L1058.9,929.6 L1055.5,929.6 L1054.9,929.6 L1051.7,929.6 L1050.9,929.6 L1047.9,929.6 L1046.9,929.6 L1044.1,929.6 L1042.9,929.6 L1040.3,929.6 L1038.9,929.6 L1036.5,929.6 L1034.5,929.6 L1032.7,929.6 L1030.2,929.6 L1029.0,929.6 L1025.8,929.6 L1025.2,929.6 L1021.5,929.6 L1021.4,929.6 L1017.6,929.6 L1017.1,929.6 L1013.8,929.6 L1012.7,929.6 L1010.1,929.6 L1008.4,929.6 L1006.3,929.6 L1004.0,929.6 L1002.5,929.6 L1001.0,929.6 L1000.0,929.6 L997.4,929.6 L996.0,929.6 L993.9,929.6 L992.0,929.6 L990.3,929.6 L988.0,929.6 L986.8,929.6 L984.0,929.6 L983.2,929.6 L980.0,929.6 L979.7,929.6 L976.1,929.6 L976.0,929.6 L972.6,929.6 L972.0,929.6 L969.0,929.6 L968.0,929.6 L965.4,929.6 L963.9,929.6 L961.8,929.6 L959.9,929.6 L958.2,929.6 L955.9,929.6 L954.6,929.6 L951.8,929.6 L951.0,929.6 L947.8,929.6 L947.4,929.6 L943.8,929.6 L940.0,929.6 L939.9,929.6 L936.1,929.6 L935.6,929.6 L932.2,929.6 L931.2,929.6 L928.4,929.6 L925.6,929.6 L924.2,929.6 L920.0,929.6 L915.7,929.6 L915.5,929.6 L911.3,929.6 L910.9,929.6 L907.0,929.6 L906.4,929.6 L902.7,929.6 L898.3,929.6 L894.0,929.6 L886.9,929.6 L881.3,929.6 L880.0,929.6 L875.7,929.6 L871.5,929.6 L862.0,929.6 L861.7,929.6 L846.3,929.6 L838.0,929.6 L824.0,929.6 L821.0,929.6 L814.0,929.6 L800.1,929.6 L796.6,929.6 L793.0,929.6 L787.6,929.6 L781.3,929.6 L779.9,929.6 L776.4,929.6 L775.0,929.6 L769.4,929.6 L765.0,929.6 L764.5,929.6 L751.9,929.6 L750.5,929.6 L743.0,929.6 L740.0,929.6 L720.8,929.6 L719.4,929.6 L713.8,929.6 L711.0,929.6 L702.7,929.6 L700.0,929.6 L686.0,929.6 L677.5,929.6 L658.0,929.6 L620.0,929.6 L560.0,929.6 L208.0,929.6 Z"/></clipPath>
<g stroke="#000" stroke-opacity="0.26" stroke-width="1.7" clip-path="url(#areaclip)"><line x1="198.5" y1="533.1" x2="1367" y2="533.1" stroke-dasharray="7.2 5.7"/><line x1="198.5" y1="632" x2="1367" y2="632" stroke-dasharray="7.2 5.7"/><line x1="198.5" y1="731" x2="1367" y2="731" stroke-dasharray="7.2 5.7"/><line x1="198.5" y1="830" x2="1367" y2="830" stroke-dasharray="7.2 5.7"/><line x1="252" y1="533.1" x2="252" y2="930.6" stroke-dasharray="6.6 6.3"/><line x1="416" y1="533.1" x2="416" y2="930.6" stroke-dasharray="6.6 6.3"/><line x1="580.5" y1="533.1" x2="580.5" y2="930.6" stroke-dasharray="6.6 6.3"/><line x1="744.5" y1="533.1" x2="744.5" y2="930.6" stroke-dasharray="6.6 6.3"/><line x1="907.5" y1="533.1" x2="907.5" y2="930.6" stroke-dasharray="6.6 6.3"/><line x1="1071.5" y1="533.1" x2="1071.5" y2="930.6" stroke-dasharray="6.6 6.3"/><line x1="1235.5" y1="533.1" x2="1235.5" y2="930.6" stroke-dasharray="6.6 6.3"/></g>
<line x1="252" y1="930.6" x2="252" y2="947" stroke="#a6a6a6" stroke-width="1.7"/>
<line x1="416" y1="930.6" x2="416" y2="947" stroke="#a6a6a6" stroke-width="1.7"/>
<line x1="580.5" y1="930.6" x2="580.5" y2="947" stroke="#a6a6a6" stroke-width="1.7"/>
<line x1="744.5" y1="930.6" x2="744.5" y2="947" stroke="#a6a6a6" stroke-width="1.7"/>
<line x1="907.5" y1="930.6" x2="907.5" y2="947" stroke="#a6a6a6" stroke-width="1.7"/>
<line x1="1071.5" y1="930.6" x2="1071.5" y2="947" stroke="#a6a6a6" stroke-width="1.7"/>
<line x1="1235.5" y1="930.6" x2="1235.5" y2="947" stroke="#a6a6a6" stroke-width="1.7"/>
<line x1="198" y1="532.5" x2="198" y2="930.5" stroke="#d3dde1" stroke-width="1.6"/>
<line x1="198" y1="930.6" x2="1370" y2="930.6" stroke="#d7dfe2" stroke-width="1.5"/>
<linearGradient id="sw0" x1="0" y1="0" x2="0" y2="1"><stop offset="0" stop-color="#06a3c0"/><stop offset="0.4" stop-color="#06a3c0"/><stop offset="1" stop-color="#a9dde7"/></linearGradient>
<path d="M133.9,1038.8 L163.5,1038.8 L162.1,1048.3 L135.3,1048.3 Z" fill="url(#sw0)"/>
<path d="M133.9,1039.8 L163.5,1039.8" stroke="#0b6d85" stroke-width="2"/>
<linearGradient id="sw1" x1="0" y1="0" x2="0" y2="1"><stop offset="0" stop-color="#8ad9ed"/><stop offset="0.4" stop-color="#8ad9ed"/><stop offset="1" stop-color="#d6f2f8"/></linearGradient>
<path d="M133.9,1074.4 L163.5,1074.4 L162.1,1083.9 L135.3,1083.9 Z" fill="url(#sw1)"/>
<path d="M133.9,1075.4 L163.5,1075.4" stroke="#7cbfcf" stroke-width="2"/>
<linearGradient id="sw2" x1="0" y1="0" x2="0" y2="1"><stop offset="0" stop-color="#0a7fdf"/><stop offset="0.4" stop-color="#0a7fdf"/><stop offset="1" stop-color="#a6ccf0"/></linearGradient>
<path d="M133.9,1109.8 L163.5,1109.8 L162.1,1119.3 L135.3,1119.3 Z" fill="url(#sw2)"/>
<path d="M133.9,1110.8 L163.5,1110.8" stroke="#0a55a8" stroke-width="2"/>
<linearGradient id="sw3" x1="0" y1="0" x2="0" y2="1"><stop offset="0" stop-color="#109ec8"/><stop offset="0.4" stop-color="#109ec8"/><stop offset="1" stop-color="#cddfe6"/></linearGradient>
<path d="M542.1,1039.0 L571.7,1039.0 L570.3,1048.5 L543.5,1048.5 Z" fill="url(#sw3)"/>
<path d="M542.1,1040.0 L571.7,1040.0" stroke="#0b5f85" stroke-width="2"/>
<linearGradient id="sw4" x1="0" y1="0" x2="0" y2="1"><stop offset="0" stop-color="#3a99f0"/><stop offset="0.4" stop-color="#3a99f0"/><stop offset="1" stop-color="#9dd0f8"/></linearGradient>
<path d="M542.1,1074.4 L571.7,1074.4 L570.3,1083.9 L543.5,1083.9 Z" fill="url(#sw4)"/>
<path d="M542.1,1075.4 L571.7,1075.4" stroke="#1b72d0" stroke-width="2"/>
<linearGradient id="sw5" x1="0" y1="0" x2="0" y2="1"><stop offset="0" stop-color="#f5dc5a"/><stop offset="0.4" stop-color="#f5dc5a"/><stop offset="1" stop-color="#fcf0bb"/></linearGradient>
<path d="M542.1,1109.8 L571.7,1109.8 L570.3,1119.3 L543.5,1119.3 Z" fill="url(#sw5)"/>
<path d="M542.1,1110.8 L571.7,1110.8" stroke="#e2cb4a" stroke-width="2"/>
<linearGradient id="sw6" x1="0" y1="0" x2="0" y2="1"><stop offset="0" stop-color="#e8c870"/><stop offset="0.4" stop-color="#e8c870"/><stop offset="1" stop-color="#f7e9bf"/></linearGradient>
<path d="M950.4,1038.8 L980.0,1038.8 L978.6,1048.3 L951.8,1048.3 Z" fill="url(#sw6)"/>
<path d="M950.4,1039.8 L980.0,1039.8" stroke="#c5a44e" stroke-width="2"/>
<linearGradient id="sw7" x1="0" y1="0" x2="0" y2="1"><stop offset="0" stop-color="#cfdde5"/><stop offset="0.4" stop-color="#cfdde5"/><stop offset="1" stop-color="#edf3f5"/></linearGradient>
<path d="M950.4,1074.4 L980.0,1074.4 L978.6,1083.9 L951.8,1083.9 Z" fill="url(#sw7)"/>
<path d="M950.4,1075.4 L980.0,1075.4" stroke="#b0c1c9" stroke-width="2"/>
<linearGradient id="sw8" x1="0" y1="0" x2="0" y2="1"><stop offset="0" stop-color="#80b2c6"/><stop offset="0.4" stop-color="#80b2c6"/><stop offset="1" stop-color="#c8dee6"/></linearGradient>
<path d="M950.4,1109.8 L980.0,1109.8 L978.6,1119.3 L951.8,1119.3 Z" fill="url(#sw8)"/>
<path d="M950.4,1110.8 L980.0,1110.8" stroke="#4b7f94" stroke-width="2"/>
<text class="tt" transform="scale(1.0200,1)" x="253.71 287.71 329.30 369.30 402.99 443.39 459.28 491.89 524.59 534.59 578.34 617.09 652.45 690.18 724.50 748.32 801.79 844.01 883.38 914.82 924.82 971.27 1008.85 1044.56 1079.34 1112.83" y="206.6" font-size="58.0" font-weight="700" fill="#000">TOKENIZED REAL-WORLD ASSET</text>
<text class="tt" transform="scale(1.0200,1)" x="215.78 263.40 300.12 339.12 379.23 412.10 422.10 461.30 500.76 538.94 584.82 637.82 672.73 682.73 728.21 766.55 776.55 817.38 854.54 890.38 925.65 958.94 968.94 1007.97 1045.35 1078.34 1116.35 1151.62" y="282.1" font-size="58.0" font-weight="700" fill="#000">MARKET GROWTH BY ASSET CLASS</text>
<text class="tt" transform="scale(1.0350,1)" x="523.58 542.76 576.23 605.97 638.91 672.18 704.44 737.52 770.91 804.32 834.73" y="356.9" font-size="58.0" font-weight="700" fill="#000">(2019–2025)</text>
<text x="80.70" y="540.90" font-size="27.90" textLength="88.70" lengthAdjust="spacingAndGlyphs" fill="#93a6ae" stroke="#93a6ae" stroke-width="0.2">$40.0B</text>
<text x="81.62" y="640.70" font-size="27.90" textLength="87.88" lengthAdjust="spacingAndGlyphs" fill="#93a6ae" stroke="#93a6ae" stroke-width="0.2">$30.0B</text>
<text x="81.70" y="740.20" font-size="27.90" textLength="87.70" lengthAdjust="spacingAndGlyphs" fill="#93a6ae" stroke="#93a6ae" stroke-width="0.2">$20.0B</text>
<text x="84.95" y="839.70" font-size="27.90" textLength="84.39" lengthAdjust="spacingAndGlyphs" fill="#93a6ae" stroke="#93a6ae" stroke-width="0.2">$10.0B</text>
<text x="98.66" y="938.90" font-size="27.90" textLength="70.59" lengthAdjust="spacingAndGlyphs" fill="#93a6ae" stroke="#93a6ae" stroke-width="0.2">$0.00</text>
<text x="218.31" y="984.30" font-size="27.60" textLength="68.54" lengthAdjust="spacingAndGlyphs" fill="#93a6ae" stroke="#93a6ae" stroke-width="0.2">1/1/19</text>
<text x="379.49" y="984.30" font-size="27.60" textLength="71.85" lengthAdjust="spacingAndGlyphs" fill="#93a6ae" stroke="#93a6ae" stroke-width="0.2">1/1/20</text>
<text x="545.67" y="984.30" font-size="27.60" textLength="67.94" lengthAdjust="spacingAndGlyphs" fill="#93a6ae" stroke="#93a6ae" stroke-width="0.2">1/1/21</text>
<text x="708.71" y="984.30" font-size="27.60" textLength="70.62" lengthAdjust="spacingAndGlyphs" fill="#93a6ae" stroke="#93a6ae" stroke-width="0.2">1/1/22</text>
<text x="871.75" y="984.30" font-size="27.60" textLength="71.11" lengthAdjust="spacingAndGlyphs" fill="#93a6ae" stroke="#93a6ae" stroke-width="0.2">1/1/23</text>
<text x="1034.37" y="984.30" font-size="27.60" textLength="72.13" lengthAdjust="spacingAndGlyphs" fill="#93a6ae" stroke="#93a6ae" stroke-width="0.2">1/1/24</text>
<text x="1198.35" y="984.30" font-size="27.60" textLength="72.12" lengthAdjust="spacingAndGlyphs" fill="#93a6ae" stroke="#93a6ae" stroke-width="0.2">1/1/25</text>
<text x="172.92" y="1048.80" font-size="24.40" textLength="150.44" lengthAdjust="spacingAndGlyphs" fill="#3d3d3d" stroke="#3d3d3d" stroke-width="0.25">Private Credit</text>
<text x="171.75" y="1084.50" font-size="24.40" textLength="332.25" lengthAdjust="spacingAndGlyphs" fill="#3d3d3d" stroke="#3d3d3d" stroke-width="0.25">Institutional Alternative Funds</text>
<text x="173.61" y="1119.90" font-size="24.40" textLength="188.36" lengthAdjust="spacingAndGlyphs" fill="#3d3d3d" stroke="#3d3d3d" stroke-width="0.25">Corporate Bonds</text>
<text x="580.58" y="1048.90" font-size="24.40" textLength="195.65" lengthAdjust="spacingAndGlyphs" fill="#3d3d3d" stroke="#3d3d3d" stroke-width="0.25">US Treasury Debt</text>
<text x="581.50" y="1084.50" font-size="24.40" textLength="74.55" lengthAdjust="spacingAndGlyphs" fill="#3d3d3d" stroke="#3d3d3d" stroke-width="0.25">Stocks</text>
<text x="580.97" y="1119.80" font-size="24.40" textLength="152.69" lengthAdjust="spacingAndGlyphs" fill="#3d3d3d" stroke="#3d3d3d" stroke-width="0.25">Private Equity</text>
<text x="989.81" y="1048.80" font-size="24.40" textLength="146.45" lengthAdjust="spacingAndGlyphs" fill="#3d3d3d" stroke="#3d3d3d" stroke-width="0.25">Commodities</text>
<text x="988.78" y="1084.40" font-size="24.40" textLength="289.04" lengthAdjust="spacingAndGlyphs" fill="#3d3d3d" stroke="#3d3d3d" stroke-width="0.25">non-US Government Debt</text>
<text x="990.81" y="1119.80" font-size="24.40" textLength="320.82" lengthAdjust="spacingAndGlyphs" fill="#3d3d3d" stroke="#3d3d3d" stroke-width="0.25">Actively-Managed Strategies</text>
</svg>
</body></html>
